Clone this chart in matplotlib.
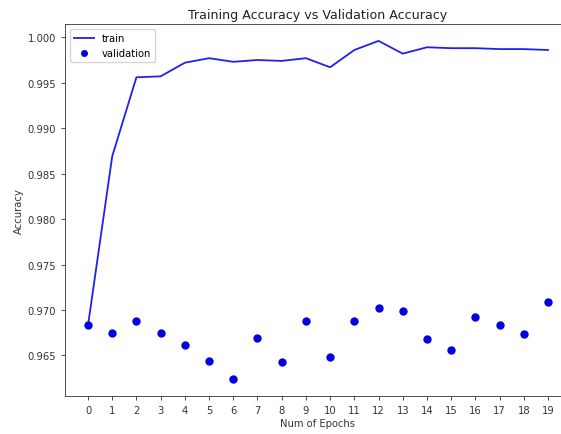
import matplotlib
matplotlib.use("Agg")
import matplotlib.pyplot as plt

epochs = list(range(20))
train_acc = [0.9683, 0.9869, 0.9956, 0.9957, 0.9972, 0.9977, 0.9973, 0.9975, 0.9974, 0.9977,
             0.9967, 0.9986, 0.9996, 0.9982, 0.9989, 0.9988, 0.9988, 0.9987, 0.9987, 0.9986]
val_acc = [0.9683, 0.9675, 0.9688, 0.9675, 0.9662, 0.9644, 0.9624, 0.9669, 0.9643, 0.9688,
           0.9648, 0.9688, 0.9702, 0.9699, 0.9668, 0.9656, 0.9692, 0.9683, 0.9674, 0.9709]
xtick_labels = [str(e) for e in epochs]

fs = 7.2
fig = plt.figure(figsize=(5.61, 4.35), dpi=100)
ax = fig.add_axes([65/561, 38/435, 506/561, 372/435])
ax.plot(epochs, train_acc, color='#2020f0', lw=1.3, label='train')
ax.plot(epochs, val_acc, 'o', color='#0000e0', markersize=5, label='validation')
ax.set_xticks(epochs)
ax.set_xticklabels(xtick_labels)
ax.tick_params(labelsize=fs, width=0.6, length=2.8, colors='#333333')
ax.set_title('Training Accuracy vs Validation Accuracy', fontsize=9.1, pad=4.5, color='#222222')
ax.set_xlabel('Num of Epochs', fontsize=fs, labelpad=2.5, color='#333333')
ax.set_ylabel('Accuracy', fontsize=fs, labelpad=2.5, color='#333333')
for s in ax.spines.values():
    s.set_linewidth(0.6)
    s.set_color('#333333')
ax.spines['right'].set_visible(False)
ax.legend(loc='upper left', fontsize=fs, markerscale=0.8)
fig.savefig('out.png', dpi=100)
